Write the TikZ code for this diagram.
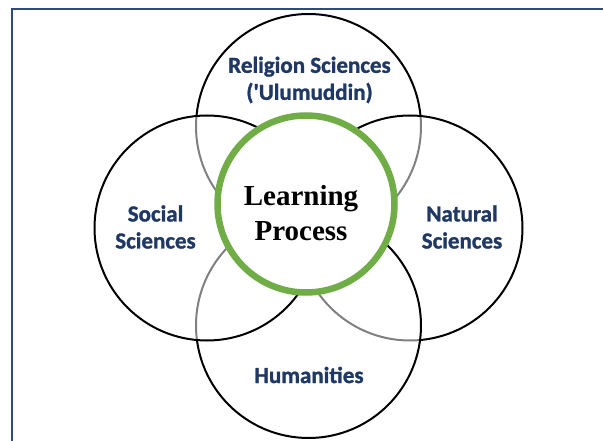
\documentclass[tikz,border=0pt]{standalone}
\usepackage{fontspec}
\setmainfont{Liberation Serif}
\newfontfamily\labelfont[BoldFeatures={FakeBold=1.2}]{Carlito}
\definecolor{framebl}{RGB}{47,74,125}
\definecolor{navy}{RGB}{31,56,100}
\definecolor{leafgreen}{RGB}{112,173,71}
\tikzset{
  field/.style={circle, draw=black, line width=2pt, fill=white, fill opacity=0.5,
                minimum size=225pt, inner sep=0pt},
  core/.style={circle, draw=leafgreen, line width=6.5pt, fill=white,
               minimum size=177pt, inner sep=0pt},
  fieldtext/.style={text=navy, align=center,
                    font=\labelfont\bfseries\fontsize{23}{27}\selectfont},
  coretext/.style={text=black, align=center,
                   font=\bfseries\fontsize{29}{35}\selectfont}
}
\begin{document}
\begin{tikzpicture}[x=1pt, y=-1pt]
  \useasboundingbox (0,0) rectangle (603,441);
  % page frame
  \draw[framebl, line width=2pt] (603,9) -- (12,9) -- (12,441);
  % overlapping field circles (drawing order sets which edges show through)
  \node[field] (top) at (308.5,126.5) {};
  \node[field] (right) at (410,228) {};
  \node[field] (bottom) at (308.5,325.5) {};
  \node[field] (left) at (207,228) {};
  % central circle
  \node[core] (centre) at (306,204) {};
  % labels
  \node[fieldtext] (religion) at (309.5,80) {Religion Sciences\\('Ulumuddin)};
  \node[fieldtext] (social) at (155.5,227) {Social\\Sciences};
  \node[fieldtext] (natural) at (462,227) {Natural\\Sciences};
  \node[fieldtext] (human) at (309,375) {Humanities};
  \node[coretext] (learning) at (301,213) {Learning\\Process};
\end{tikzpicture}
\end{document}
